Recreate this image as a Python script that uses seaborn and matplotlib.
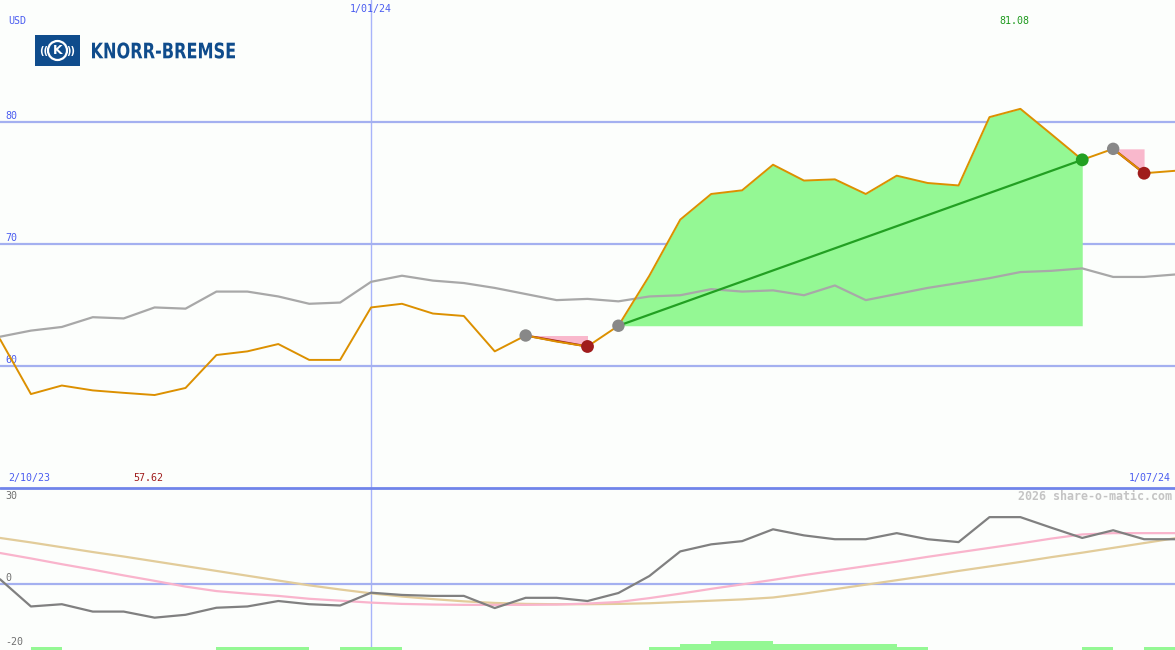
import matplotlib
matplotlib.use("Agg")
import matplotlib.pyplot as plt
from matplotlib.patches import Rectangle, Ellipse, PathPatch
from matplotlib.lines import Line2D
from matplotlib.textpath import TextPath
from matplotlib.font_manager import FontProperties
from matplotlib.transforms import Affine2D, IdentityTransform
import seaborn as sns

# weekly closes, 2/10/23 .. 1/07/24
weeks = list(range(39))
price = [62.2, 57.7, 58.4, 58.0, 57.8, 57.62, 58.2, 60.9, 61.2, 61.8, 60.5, 60.5, 64.8,
         65.1, 64.3, 64.1, 61.2, 62.5, 62.0, 61.6, 63.3, 67.4, 72.0, 74.1, 74.4, 76.5,
         75.2, 75.3, 74.1, 75.6, 75.0, 74.8, 80.4, 81.08, 79.0, 76.9, 77.8, 75.8, 76.0]
avg = [62.4, 62.9, 63.2, 64.0, 63.9, 64.8, 64.7, 66.1, 66.1, 65.7, 65.1, 65.2, 66.9,
       67.4, 67.0, 66.8, 66.4, 65.9, 65.4, 65.5, 65.3, 65.7, 65.8, 66.3, 66.1, 66.2,
       65.8, 66.6, 65.4, 65.9, 66.4, 66.8, 67.2, 67.7, 67.8, 68.0, 67.3, 67.3, 67.5]
osc = [1.5, -7.0, -6.3, -8.6, -8.6, -10.5, -9.6, -7.4, -7.0, -5.3, -6.3, -6.7, -2.7,
       -3.4, -3.7, -3.7, -7.5, -4.3, -4.3, -5.3, -2.8, 2.5, 10.2, 12.4, 13.4, 17.1,
       15.2, 14.0, 14.0, 15.9, 14.0, 13.1, 20.9, 20.9, 17.6, 14.4, 16.8, 14.0, 14.0]
osc_fast = [9.7, 8.0, 6.2, 4.5, 2.7, 1.0, -0.8, -2.2, -3.0, -3.7, -4.6, -5.2, -5.8,
            -6.2, -6.4, -6.5, -6.5, -6.5, -6.4, -6.1, -5.6, -4.4, -3.0, -1.5, -0.1, 1.3,
            2.8, 4.2, 5.6, 7.0, 8.5, 9.9, 11.3, 12.7, 14.2, 15.5, 15.9, 15.9, 15.9]
osc_slow = [14.4, 13.0, 11.5, 10.0, 8.6, 7.1, 5.6, 4.1, 2.6, 1.1, -0.4, -1.7, -2.9,
            -3.9, -4.7, -5.4, -5.9, -6.2, -6.3, -6.3, -6.2, -6.0, -5.6, -5.2, -4.8, -4.2,
            -3.0, -1.6, -0.2, 1.2, 2.6, 4.1, 5.5, 6.9, 8.4, 9.8, 11.3, 12.8, 14.3]
signal = [0, 0.9, 0, 0, 0, 0, 0, 0.9, 0.9, 0.9, 0, 0.9, 0.9, 0, 0, 0, 0, 0, 0, 0, 0,
          0.9, 1.9, 2.8, 2.8, 1.9, 1.9, 1.9, 1.9, 0.9, 0, 0, 0, 0, 0, 0.9, 0, 0.9]
trade_in = [17, 20, 36]
trade_out = [19, 35, 37]
price_ticks = [60, 70, 80]
osc_ticks = [30, 0, -20]
date_first, date_mid, date_last = "2/10/23", "1/01/24", "1/07/24"
mid_week = 12

BG = "#fcfefc"
GRID = "#a4b0f0"
BLUE_TXT = "#4a5cf0"
LOGO = "#0f4c8c"

sns.set_style("white")
plt.rcParams["font.family"] = ["DejaVu Sans Mono"]

W, H = 1175, 650
fig = plt.figure(figsize=(W / 100, H / 100), dpi=100, facecolor=BG)
ax = fig.add_axes([0, 162 / H, 1, 488 / H])
ax2 = fig.add_axes([0, 0, 1, 162 / H])

for a in (ax, ax2):
    a.patch.set_visible(False)
    a.set_xlim(0, 38)
    a.set_xticks([])
    a.set_yticks([])
    for s in a.spines.values():
        s.set_visible(False)
    a.axvline(mid_week, color="#a8b4fa", lw=1, zorder=0)
ax.set_ylim(50, 90)
ax2.set_ylim(-20.6, 30)

# price panel
for t in price_ticks:
    ax.axhline(t, color=GRID, lw=1.6, zorder=0)
    ax.annotate(str(t), (0, t), xytext=(5, 6), textcoords="offset pixels",
                va="center", ha="left", color=BLUE_TXT, fontsize=7.2)

for i, o in zip(trade_in, trade_out):
    xs = weeks[i:o + 1]
    ys = price[i:o + 1]
    win = price[o] > price[i]
    ax.fill_between(xs, ys, price[i], color="#94f894" if win else "#f9b8cc",
                    lw=0, zorder=1)
    ax.plot([i, o], [price[i], price[o]], color="#22a022" if win else "#a01c1c",
            lw=1.6, zorder=3)

sns.lineplot(x=weeks, y=avg, ax=ax, color="#a8a8a8", lw=1.6, zorder=2)
sns.lineplot(x=weeks, y=price, ax=ax, color="#dc9000", lw=1.4, zorder=4)

sns.scatterplot(x=trade_in, y=[price[i] for i in trade_in], ax=ax, color="#888888",
                s=80, edgecolor="none", zorder=5)
sns.scatterplot(x=trade_out, y=[price[o] for o in trade_out], ax=ax,
                color=["#22a022" if price[o] > price[i] else "#a01c1c"
                       for i, o in zip(trade_in, trade_out)],
                s=85, edgecolor="none", zorder=5)
ax.set_xlim(0, 38)
ax.set_ylim(50, 90)
ax.set_xlabel("")
ax.set_ylabel("")

hi = price.index(max(price))
lo = price.index(min(price))
ax.text(hi - 0.2, 1 - 21 / 488, f"{max(price):.2f}", transform=ax.get_xaxis_transform(),
        ha="center", va="center", color="#1e9a1e", fontsize=7.2)
ax.text(lo - 0.2, 10 / 488, f"{min(price):.2f}", transform=ax.get_xaxis_transform(),
        ha="center", va="center", color="#a01c1c", fontsize=7.2)
ax.text(mid_week, 1 - 9 / 488, date_mid, transform=ax.get_xaxis_transform(),
        ha="center", va="center", color=BLUE_TXT, fontsize=7.2)
ax.text(8 / W, 10 / 488, date_first, transform=ax.transAxes,
        ha="left", va="center", color=BLUE_TXT, fontsize=7.2)
ax.text(1 - 4 / W, 10 / 488, date_last, transform=ax.transAxes,
        ha="right", va="center", color=BLUE_TXT, fontsize=7.2)
ax.text(8 / W, 1 - 21 / 488, "USD", transform=ax.transAxes,
        ha="left", va="center", color=BLUE_TXT, fontsize=7.2)

# panel separator
fig.add_artist(Line2D([0, 1], [162.5 / H, 162.5 / H], transform=fig.transFigure,
                      color="#7084ea", lw=2.0, zorder=10))

# logo
fig.add_artist(Rectangle((35 / W, 1 - 66 / H), 45 / W, 31 / H, transform=fig.transFigure,
                         facecolor=LOGO, edgecolor="none"))
fig.add_artist(Ellipse((57.5 / W, 1 - 50.5 / H), 19 / W, 19 / H, transform=fig.transFigure,
                       facecolor="none", edgecolor="white", lw=1.6))
fig.text(57.5 / W, 1 - 50.5 / H, "K", ha="center", va="center", color="white",
         fontsize=9, fontweight="bold", family=["DejaVu Sans"])
fig.text(44 / W, 1 - 50.5 / H, "((", ha="center", va="center", color="white",
         fontsize=7, fontweight="bold", family=["DejaVu Sans"])
fig.text(71 / W, 1 - 50.5 / H, "))", ha="center", va="center", color="white",
         fontsize=7, fontweight="bold", family=["DejaVu Sans"])

# condensed brand name: squeeze a bold text path to the logo width
brand = TextPath((0, 0), "KNORR-BREMSE", size=21.4,
                 prop=FontProperties(family="DejaVu Sans", weight="bold"))
bb = brand.get_extents()
sx = 143 / bb.width
fig.add_artist(PathPatch(brand, facecolor=LOGO, edgecolor="none",
                         transform=Affine2D().scale(sx, 1).translate(92 - bb.x0 * sx, H - 58.3)
                         + IdentityTransform()))

# oscillator panel
ax2.axhline(0, color=GRID, lw=1.6, zorder=0)
ax2.bar(weeks[:-1], signal, width=1, align="edge", bottom=-20.6, color="#94f894",
        lw=0, zorder=1)
sns.lineplot(x=weeks, y=osc_slow, ax=ax2, color="#e2cc9a", lw=1.6, zorder=2)
sns.lineplot(x=weeks, y=osc_fast, ax=ax2, color="#f9b4cc", lw=1.6, zorder=2)
sns.lineplot(x=weeks, y=osc, ax=ax2, color="#808080", lw=1.6, zorder=3)
ax2.set_xlim(0, 38)
ax2.set_ylim(-20.6, 30)
ax2.set_xlabel("")
ax2.set_ylabel("")
offs = {30: -8, 0: 6, -20: 6}
for t in osc_ticks:
    ax2.annotate(str(t), (0, t), xytext=(5, offs[t]), textcoords="offset pixels",
                 va="center", ha="left", color="#707070", fontsize=7.2)
ax2.text(1 - 3 / W, 1 - 9 / 162, "2026 share-o-matic.com", transform=ax2.transAxes,
         ha="right", va="center", color="#c4c4c4", fontsize=8.4, fontweight="bold")

fig.savefig("out.png", dpi=100, facecolor=BG)
